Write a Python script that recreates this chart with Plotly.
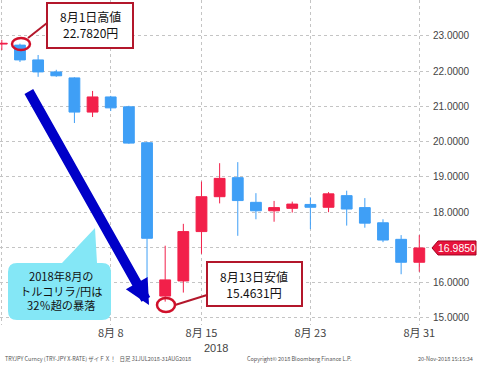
import plotly.graph_objects as go

# ---- data (TRY/JPY daily, Jul 31 - Aug 31 2018) ----
dates = ["07-31", "08-01", "08-02", "08-03", "08-06", "08-07", "08-08", "08-09",
         "08-10", "08-13", "08-14", "08-15", "08-16", "08-17", "08-20", "08-21",
         "08-22", "08-23", "08-24", "08-27", "08-28", "08-29", "08-30", "08-31"]
opens = [22.77, 22.74, 22.32, 21.98, 21.81, 20.84, 21.27, 20.99,
         19.97, 15.62, 16.05, 17.45, 18.44, 18.98, 18.28, 18.04,
         18.11, 18.22, 18.14, 18.47, 18.13, 17.70, 17.23, 16.58]
highs = [22.89, 22.782, 22.46, 22.04, 21.83, 21.44, 21.30, 21.02,
         20.00, 17.05, 17.67, 18.87, 19.39, 19.42, 18.54, 18.32,
         18.30, 18.42, 18.57, 18.61, 18.40, 17.80, 17.35, 17.35]
lows = [22.60, 22.26, 21.84, 21.84, 20.53, 20.70, 20.87, 19.94,
        16.13, 15.4631, 15.72, 16.82, 18.25, 17.33, 17.80, 17.73,
        17.99, 17.52, 18.00, 17.62, 17.56, 17.15, 16.24, 16.31]
closes = [22.79, 22.32, 21.98, 21.87, 20.84, 21.27, 20.96, 19.96,
          17.26, 16.08, 17.45, 18.44, 18.96, 18.33, 18.04, 18.13,
          18.23, 18.14, 18.52, 18.09, 17.69, 17.21, 16.58, 16.985]

x_tick_dates = ["07-31", "08-08", "08-15", "08-23", "08-31"]
x_tick_text = ["", "8月 8", "8月 15", "8月 23", "8月 31"]
y_tick_vals = [15, 16, 17, 18, 19, 20, 21, 22, 23]
y_hidden = 17  # covered by the last-price tag
last_price_text = "16.9850"

high_label = ["8月1日高値", "22.7820円"]
low_label = ["8月13日安値", "15.4631円"]
callout_lines = ["2018年8月の", "トルコリラ/円は", "32％超の暴落"]
footer_left = "TRYJPY Curncy (TRY-JPY X-RATE) ザイＦＸ！   日足 31JUL2018-31AUG2018"
footer_mid = "Copyright© 2018 Bloomberg Finance L.P."
footer_right = "20-Nov-2018 15:15:34"

# ---- layout geometry ----
W, H = 477, 366
ML, MR, MT, MB = 0, 45, 0, 41
PW, PH = W - ML - MR, H - MT - MB
Y_RANGE = [14.80, 24.02]
X_RANGE = [-0.1, 23.7]

RED = "#f2204a"
BLUE = "#3f9ff6"
DARKRED = "#b3172b"
FONT = "Liberation Sans, Noto Sans CJK JP, sans-serif"
JPFONT = "Noto Sans CJK JP, sans-serif"


def px(x):
    return (x - ML) / PW


def py(y):
    return (MT + PH - y) / PH


fig = go.Figure()
fig.add_trace(go.Candlestick(
    x=dates, open=opens, high=highs, low=lows, close=closes,
    increasing=dict(line=dict(color=RED, width=1), fillcolor=RED),
    decreasing=dict(line=dict(color=BLUE, width=1), fillcolor=BLUE),
    whiskerwidth=0, hoverinfo="skip",
))

shapes = []
annotations = []

# cyan callout (rounded rect + pointer)
x0, x1, y0, y1, r = 8, 111, 263, 320, 9
tipx, tipy = 95, 228
pts = (f"M {px(x0 + r)},{py(y0)} L {px(62)},{py(y0)} L {px(tipx)},{py(tipy)} "
       f"L {px(97)},{py(y0)} L {px(x1 - r)},{py(y0)} "
       f"Q {px(x1)},{py(y0)} {px(x1)},{py(y0 + r)} L {px(x1)},{py(y1 - r)} "
       f"Q {px(x1)},{py(y1)} {px(x1 - r)},{py(y1)} L {px(x0 + r)},{py(y1)} "
       f"Q {px(x0)},{py(y1)} {px(x0)},{py(y1 - r)} L {px(x0)},{py(y0 + r)} "
       f"Q {px(x0)},{py(y0)} {px(x0 + r)},{py(y0)} Z")
shapes.append(dict(type="path", xref="paper", yref="paper", path=pts,
                   fillcolor="#84e7f6", line=dict(width=0), layer="above"))
annotations.append(dict(xref="paper", yref="paper", x=px(61), y=py(290),
                        text="<br>".join(callout_lines), showarrow=False,
                        xanchor="center", yanchor="middle", align="center",
                        font=dict(family=JPFONT, size=11.2, color="#111")))

# big blue arrow
annotations.append(dict(xref="paper", yref="paper", x=px(149), y=py(305),
                        ax=28 - 149, ay=90 - 305, text="", showarrow=True,
                        arrowcolor="#0000c8", arrowwidth=10, arrowhead=2, arrowsize=0.5,
                        standoff=0))

# high-value box
shapes.append(dict(type="rect", xref="paper", yref="paper", x0=px(47), x1=px(133),
                   y0=py(3), y1=py(48), fillcolor="white",
                   line=dict(color=DARKRED, width=2), layer="above"))
shapes.append(dict(type="line", xref="paper", yref="paper", x0=px(28), y0=py(38),
                   x1=px(47), y1=py(23), line=dict(color=DARKRED, width=2), layer="above"))
shapes.append(dict(type="circle", xref="paper", yref="paper", x0=px(12), x1=px(30),
                   y0=py(38), y1=py(50), line=dict(color="#d0102a", width=2.5), layer="above"))
annotations.append(dict(xref="paper", yref="paper", x=px(90), y=py(25),
                        text="<br>".join(high_label), showarrow=False,
                        xanchor="center", yanchor="middle", align="center",
                        font=dict(family=JPFONT, size=12, color="#111")))

# low-value box
shapes.append(dict(type="rect", xref="paper", yref="paper", x0=px(207), x1=px(302),
                   y0=py(262), y1=py(306), fillcolor="white",
                   line=dict(color=DARKRED, width=2), layer="above"))
shapes.append(dict(type="line", xref="paper", yref="paper", x0=px(175), y0=py(305),
                   x1=px(207), y1=py(295), line=dict(color=DARKRED, width=2), layer="above"))
shapes.append(dict(type="circle", xref="paper", yref="paper", x0=px(157), x1=px(175),
                   y0=py(298), y1=py(312), line=dict(color="#d0102a", width=2.5), layer="above"))
annotations.append(dict(xref="paper", yref="paper", x=px(254), y=py(284),
                        text="<br>".join(low_label), showarrow=False,
                        xanchor="center", yanchor="middle", align="center",
                        font=dict(family=JPFONT, size=12, color="#111")))

# last price tag
tag_y = (closes[-1] - Y_RANGE[0]) / (Y_RANGE[1] - Y_RANGE[0])
hh = 7 / PH
tag = (f"M {px(432)},{tag_y} L {px(438)},{tag_y + hh} L {px(476)},{tag_y + hh} "
       f"L {px(476)},{tag_y - hh} L {px(438)},{tag_y - hh} Z")
shapes.append(dict(type="path", xref="paper", yref="paper", path=tag,
                   fillcolor="#e8143c", line=dict(color="#a00020", width=1)))
annotations.append(dict(xref="paper", yref="paper", x=px(457), y=tag_y,
                        text=last_price_text, showarrow=False, xanchor="center",
                        yanchor="middle", font=dict(family=FONT, size=10.5, color="white")))

# year label and footer
annotations.append(dict(xref="paper", yref="paper", x=px(216), y=py(348), text="2018",
                        showarrow=False, xanchor="center", yanchor="middle",
                        font=dict(family=FONT, size=11, color="#444")))
for t, xx, anc in [(footer_left, 3, "left"), (footer_mid, 245, "left"), (footer_right, 475, "right")]:
    annotations.append(dict(xref="paper", yref="paper", x=px(xx), y=py(359), text=t,
                            showarrow=False, xanchor=anc, yanchor="middle",
                            font=dict(family=JPFONT, size=5.5, color="#555")))

fig.update_layout(
    width=W, height=H, margin=dict(l=ML, r=MR, t=MT, b=MB),
    paper_bgcolor="white", plot_bgcolor="white", showlegend=False,
    boxgap=0.15,
    font=dict(family=FONT, color="#444"),
    shapes=shapes, annotations=annotations,
    xaxis=dict(type="category", range=X_RANGE, rangeslider=dict(visible=False),
               tickmode="array", tickvals=x_tick_dates, ticktext=x_tick_text,
               showgrid=True, gridcolor="#c4c4c4", griddash="dot", gridwidth=1,
               showline=False, zeroline=False, ticks="",
               tickfont=dict(size=11, color="#444", family=JPFONT)),
    yaxis=dict(range=Y_RANGE, side="right", tickmode="array", tickvals=y_tick_vals,
               ticktext=["" if v == y_hidden else f"{v:.4f}" for v in y_tick_vals],
               showgrid=True, gridcolor="#c4c4c4", griddash="dot", gridwidth=1,
               showline=False, zeroline=False, ticks="",
               tickfont=dict(size=10, color="#444")),
)

fig.write_html("out.html", config={"displayModeBar": False},
               post_script="document.body.style.margin='0';")
